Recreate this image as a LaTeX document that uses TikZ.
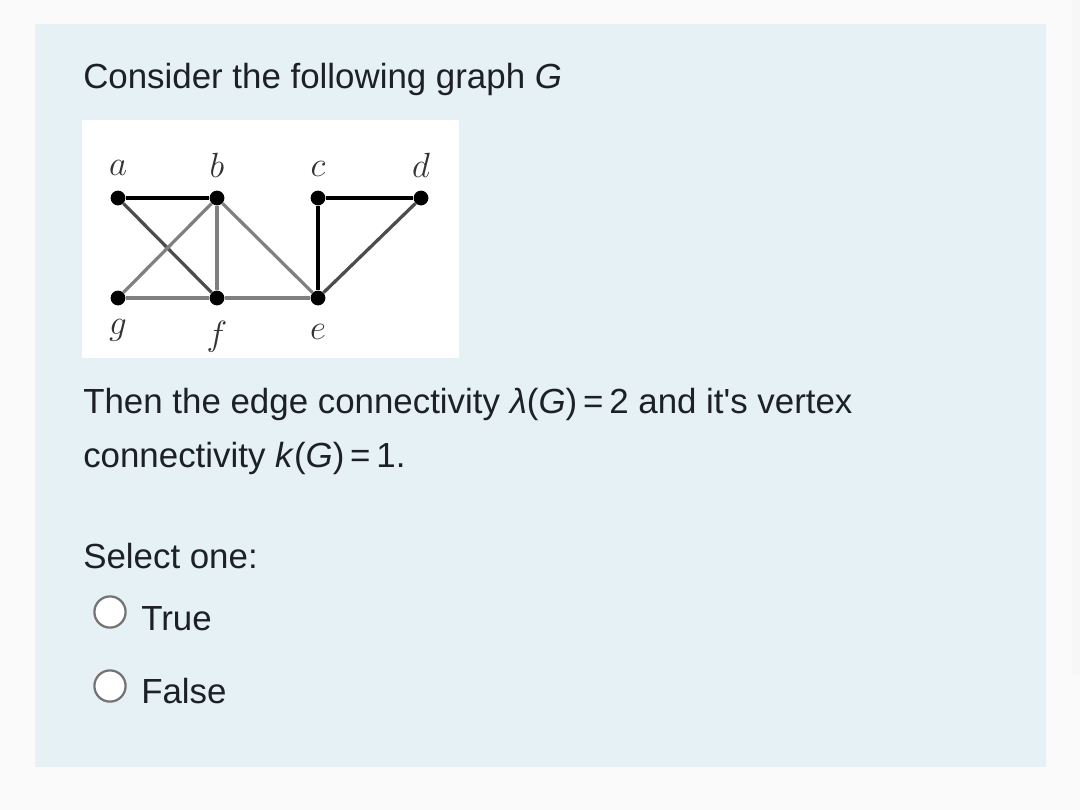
\documentclass[tikz,border=0pt]{standalone}
\usepackage{fontspec}
\setmainfont{Liberation Sans}
\usepackage{tikz}
\definecolor{pagebg}{HTML}{FAFAFA}
\definecolor{panelbg}{HTML}{E5F1F4}
\definecolor{inktext}{HTML}{1D2125}
\tikzset{
  vnode/.style={circle,fill=black,inner sep=0pt,minimum size=0.37cm},  % graph vertex
  vlabel/.style={text=black!80,font=\fontsize{23}{23}\selectfont},       % vertex letter
  darkedge/.style={black,line width=2.3pt},
  midedge/.style={black!70,line width=2.3pt},
  greyedge/.style={black!50,line width=2.3pt},
  qtext/.style={anchor=base west,text=inktext,inner sep=0pt,font=\fontsize{24.8}{24.8}\selectfont},
  radio/.style={circle,draw=black!55,line width=1.6pt,fill=white,inner sep=0pt,minimum size=0.78cm},
}

\begin{document}
\begin{tikzpicture}[x=0.025cm,y=-0.025cm]
  \useasboundingbox[fill=pagebg] (0,0) rectangle (1080,810);
  % panel
  \fill[panelbg] (35,24) rectangle (1046,767);
  \fill[black!3] (1072,0) rectangle (1080,675);
  \node[qtext] (title) at (83,88) {Consider the following graph \textit{G}};
  % graph picture
  \fill[white] (82,120) rectangle (459,358);
  \node[vnode] (a) at (118,198) {};
  \node[vnode] (b) at (217,198) {};
  \node[vnode] (c) at (318,198) {};
  \node[vnode] (d) at (421,198) {};
  \node[vnode] (g) at (118,298) {};
  \node[vnode] (f) at (217,298) {};
  \node[vnode] (e) at (318,298) {};
  \foreach \v/\x/\y in {a/118/168,b/217/165,c/318/169,d/421/165,g/118/330,f/217/337,e/318/332}
    \node[vlabel] (lab\v) at (\x,\y) {$\v$};
  \draw[darkedge] (a) -- (b);
  \draw[darkedge] (c) -- (d);
  \draw[darkedge] (c) -- (e);
  \draw[midedge] (a) -- (f);
  \draw[midedge] (e) -- (d);
  \draw[greyedge] (b) -- (g);
  \draw[greyedge] (b) -- (f);
  \draw[greyedge] (b) -- (e);
  \draw[greyedge] (g) -- (f);
  \draw[greyedge] (f) -- (e);
  % statement
  \node[qtext] (line1) at (83,413) {Then the edge connectivity \textit{λ}(\textit{G})\,=\,2 and it\textquotesingle s vertex};
  \node[qtext] (line2) at (83,467) {connectivity \textit{k}(\textit{G})\,=\,1.};
  \node[qtext] (select) at (83,568) {Select one:};
  % answers
  \node[radio] (rtrue) at (110,612) {};
  \node[qtext] (true) at (141,630) {True};
  \node[radio] (rfalse) at (110,686) {};
  \node[qtext] (false) at (141,703) {False};
\end{tikzpicture}
\end{document}
